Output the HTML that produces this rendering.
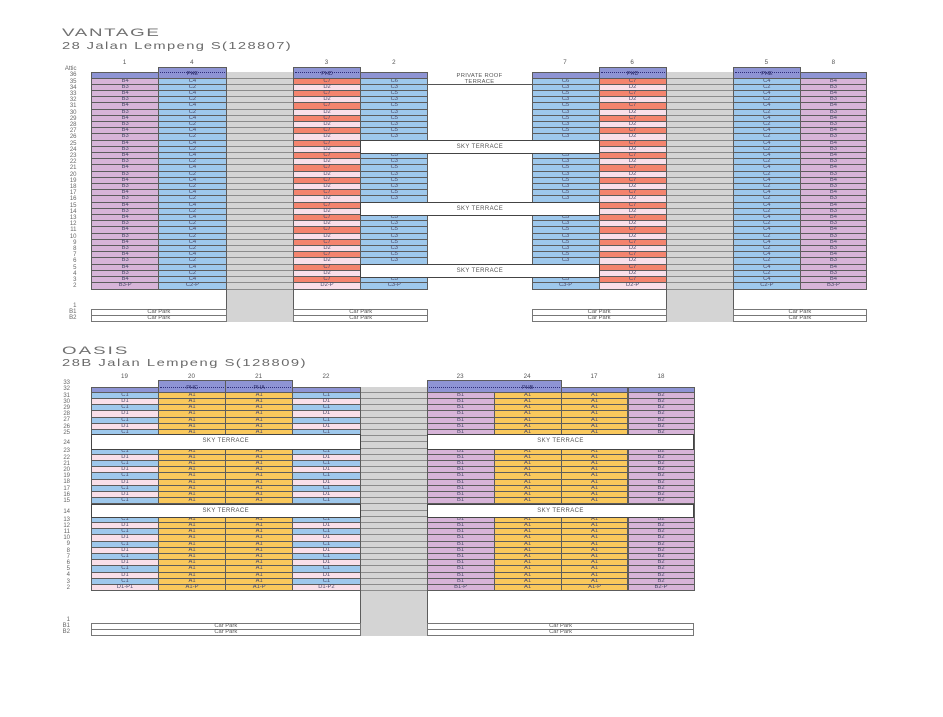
<!DOCTYPE html>
<html><head><meta charset="utf-8">
<style>
*{margin:0;padding:0}
body{width:943px;height:717px;position:relative;overflow:hidden;background:#fff;font-family:"Liberation Sans",Arial,sans-serif}
.col{position:absolute;box-sizing:border-box;border-left:1px solid #5c5c5c;border-right:1px solid #5c5c5c}
.col i{display:block;height:6.21px;box-sizing:border-box;border-bottom:1px solid #5c5c5c;font-style:normal;font-size:5.8px;line-height:5.6px;text-align:center;color:#4a4a6a;white-space:nowrap}
.col i.t{height:12.42px}
.B{background:#9ec8ec}.P{background:#f9dfe9}.L{background:#d7b4d8}.Y{background:#f9c85c}
.col i.P{background:#f9dfe9}
.col.G{background:#d4d4d4}
.col.G i{border-bottom-color:#8c8c8c}
.alt i:nth-child(odd){background:#f4846e}
.alt i:nth-child(even){background:#f9dfe9}
.band{position:absolute;box-sizing:border-box;background:#8e94d4;border:1px solid #5c5c5c}
.ph{position:absolute;box-sizing:border-box;background:#8e94d4;border:1px solid #5c5c5c}
.ph:before{content:"";position:absolute;left:1px;right:1px;top:4.9px;border-top:1px dotted #2e2e7a}
.ph.o:before{top:5.5px}
.ph span{position:absolute;left:0;right:0;bottom:0;line-height:5.8px;font-size:5.5px;color:#2a2a66;text-align:center}
.labs{position:absolute;width:30px}
.labs i{display:block;height:6.21px;line-height:6.21px;font-style:normal;font-size:6px;text-align:right;color:#666}
.num{position:absolute;width:20px;text-align:center;font-size:6.2px;line-height:6px;color:#555}
.sky{position:absolute;box-sizing:border-box;background:#fff;border:1px solid #444;font-size:6px;line-height:12.4px;color:#555;text-align:center;letter-spacing:.4px}
.cp{position:absolute;box-sizing:border-box;border:1px solid #777;background:#fff;height:12.9px}
.cp b{display:block;height:50%;box-sizing:border-box;font-weight:normal;font-size:5.8px;line-height:5.4px;text-align:center;color:#555}
.cp b:first-child{border-bottom:1px solid #777}
.ttl{position:absolute;white-space:nowrap;transform-origin:0 0;color:#707070;line-height:1}
.txt{position:absolute;font-size:5.8px;color:#555;text-align:center;line-height:6px;letter-spacing:.3px}
</style></head><body>

<!-- ================= VANTAGE ================= -->
<div class="ttl" style="left:62px;top:28.3px;font-size:11px;letter-spacing:1px;transform:scaleX(1.7)">VANTAGE</div>
<div class="ttl" style="left:62px;top:40.6px;font-size:10.5px;letter-spacing:1px;transform:scaleX(1.4);color:#6a6a6a">28 Jalan Lempeng S(128807)</div>

<div class="num" style="left:114.6px;top:60px">1</div>
<div class="num" style="left:181.9px;top:60px">4</div>
<div class="num" style="left:316.5px;top:60px">3</div>
<div class="num" style="left:383.8px;top:60px">2</div>
<div class="num" style="left:555px;top:60px">7</div>
<div class="num" style="left:622.1px;top:60px">6</div>
<div class="num" style="left:756.4px;top:60px">5</div>
<div class="num" style="left:823.4px;top:60px">8</div>

<div class="labs" style="left:46.5px;top:66.2px"><i>Attic</i><i>36</i><i>35</i><i>34</i><i>33</i><i>32</i><i>31</i><i>30</i><i>29</i><i>28</i><i>27</i><i>26</i><i>25</i><i>24</i><i>23</i><i>22</i><i>21</i><i>20</i><i>19</i><i>18</i><i>17</i><i>16</i><i>15</i><i>14</i><i>13</i><i>12</i><i>11</i><i>10</i><i>9</i><i>8</i><i>7</i><i>6</i><i>5</i><i>4</i><i>3</i><i>2</i></div>
<div class="labs" style="left:46.5px;top:302.6px"><i>1</i><i>B1</i><i>B2</i></div>

<!-- gray columns -->
<div class="col G" style="left:225.6px;top:72.4px;width:68.3px;height:249.6px"><i></i><i></i><i></i><i></i><i></i><i></i><i></i><i></i><i></i><i></i><i></i><i></i><i></i><i></i><i></i><i></i><i></i><i></i><i></i><i></i><i></i><i></i><i></i><i></i><i></i><i></i><i></i><i></i><i></i><i></i><i></i><i></i><i></i><i></i><i></i></div>
<div class="col G" style="left:665.7px;top:72.4px;width:68.1px;height:249.6px"><i></i><i></i><i></i><i></i><i></i><i></i><i></i><i></i><i></i><i></i><i></i><i></i><i></i><i></i><i></i><i></i><i></i><i></i><i></i><i></i><i></i><i></i><i></i><i></i><i></i><i></i><i></i><i></i><i></i><i></i><i></i><i></i><i></i><i></i><i></i></div>

<!-- col 1 -->
<div class="col L" style="left:91px;top:78.6px;width:68.3px">
<i>B4</i><i>B3</i><i>B4</i><i>B3</i><i>B4</i><i>B3</i><i>B4</i><i>B3</i>
<i>B4</i><i>B3</i><i>B4</i><i>B3</i><i>B4</i><i>B3</i><i>B4</i><i>B3</i>
<i>B4</i><i>B3</i><i>B4</i><i>B3</i><i>B4</i><i>B3</i><i>B4</i><i>B3</i>
<i>B4</i><i>B3</i><i>B4</i><i>B3</i><i>B4</i><i>B3</i><i>B4</i><i>B3</i>
<i>B4</i><i>B3-P</i></div>
<!-- col 4 -->
<div class="col B" style="left:158.3px;top:78.6px;width:68.3px">
<i>C4</i><i>C2</i><i>C4</i><i>C2</i><i>C4</i><i>C2</i><i>C4</i><i>C2</i>
<i>C4</i><i>C2</i><i>C4</i><i>C2</i><i>C4</i><i>C2</i><i>C4</i><i>C2</i>
<i>C4</i><i>C2</i><i>C4</i><i>C2</i><i>C4</i><i>C2</i><i>C4</i><i>C2</i>
<i>C4</i><i>C2</i><i>C4</i><i>C2</i><i>C4</i><i>C2</i><i>C4</i><i>C2</i>
<i>C4</i><i>C2-P</i></div>
<!-- col 3 -->
<div class="col alt" style="left:292.9px;top:78.6px;width:68.3px">
<i>C7</i><i>D2</i><i>C7</i><i>D2</i><i>C7</i><i>D2</i><i>C7</i><i>D2</i>
<i>C7</i><i>D2</i><i>C7</i><i>D2</i><i>C7</i><i>D2</i><i>C7</i><i>D2</i>
<i>C7</i><i>D2</i><i>C7</i><i>D2</i><i>C7</i><i>D2</i><i>C7</i><i>D2</i>
<i>C7</i><i>D2</i><i>C7</i><i>D2</i><i>C7</i><i>D2</i><i>C7</i><i>D2</i>
<i>C7</i><i>D2-P</i></div>
<!-- col 2 -->
<div class="col B" style="left:360.2px;top:78.6px;width:68.3px">
<i>C6</i><i>C3</i>
<i>C5</i><i>C3</i><i>C5</i><i>C3</i><i>C5</i><i>C3</i><i>C5</i><i>C3</i><i>C5</i><i>C3</i>
<i>C5</i><i>C3</i><i>C5</i><i>C3</i><i>C5</i><i>C3</i><i>C5</i><i>C3</i><i>C5</i><i>C3</i>
<i>C5</i><i>C3</i><i>C5</i><i>C3</i><i>C5</i><i>C3</i><i>C5</i><i>C3</i><i>C5</i><i>C3</i>
<i>C5</i><i>C3-P</i></div>
<!-- col 7 -->
<div class="col B" style="left:531.5px;top:78.6px;width:68.1px">
<i>C6</i><i>C3</i>
<i>C5</i><i>C3</i><i>C5</i><i>C3</i><i>C5</i><i>C3</i><i>C5</i><i>C3</i><i>C5</i><i>C3</i>
<i>C5</i><i>C3</i><i>C5</i><i>C3</i><i>C5</i><i>C3</i><i>C5</i><i>C3</i><i>C5</i><i>C3</i>
<i>C5</i><i>C3</i><i>C5</i><i>C3</i><i>C5</i><i>C3</i><i>C5</i><i>C3</i><i>C5</i><i>C3</i>
<i>C5</i><i>C3-P</i></div>
<!-- col 6 -->
<div class="col alt" style="left:598.6px;top:78.6px;width:68.1px">
<i>C7</i><i>D2</i><i>C7</i><i>D2</i><i>C7</i><i>D2</i><i>C7</i><i>D2</i>
<i>C7</i><i>D2</i><i>C7</i><i>D2</i><i>C7</i><i>D2</i><i>C7</i><i>D2</i>
<i>C7</i><i>D2</i><i>C7</i><i>D2</i><i>C7</i><i>D2</i><i>C7</i><i>D2</i>
<i>C7</i><i>D2</i><i>C7</i><i>D2</i><i>C7</i><i>D2</i><i>C7</i><i>D2</i>
<i>C7</i><i>D2-P</i></div>
<!-- col 5 -->
<div class="col B" style="left:732.8px;top:78.6px;width:68.1px">
<i>C4</i><i>C2</i><i>C4</i><i>C2</i><i>C4</i><i>C2</i><i>C4</i><i>C2</i>
<i>C4</i><i>C2</i><i>C4</i><i>C2</i><i>C4</i><i>C2</i><i>C4</i><i>C2</i>
<i>C4</i><i>C2</i><i>C4</i><i>C2</i><i>C4</i><i>C2</i><i>C4</i><i>C2</i>
<i>C4</i><i>C2</i><i>C4</i><i>C2</i><i>C4</i><i>C2</i><i>C4</i><i>C2</i>
<i>C4</i><i>C2-P</i></div>
<!-- col 8 -->
<div class="col L" style="left:799.9px;top:78.6px;width:67.1px">
<i>B4</i><i>B3</i><i>B4</i><i>B3</i><i>B4</i><i>B3</i><i>B4</i><i>B3</i>
<i>B4</i><i>B3</i><i>B4</i><i>B3</i><i>B4</i><i>B3</i><i>B4</i><i>B3</i>
<i>B4</i><i>B3</i><i>B4</i><i>B3</i><i>B4</i><i>B3</i><i>B4</i><i>B3</i>
<i>B4</i><i>B3</i><i>B4</i><i>B3</i><i>B4</i><i>B3</i><i>B4</i><i>B3</i>
<i>B4</i><i>B3-P</i></div>

<!-- Vantage headers -->
<div class="band" style="left:91px;top:72.4px;width:68.3px;height:6.2px"></div>
<div class="ph" style="left:158.3px;top:66.5px;width:68.3px;height:12.1px"><span>PHE</span></div>
<div class="ph" style="left:292.9px;top:66.5px;width:68.3px;height:12.1px"><span>PHD</span></div>
<div class="band" style="left:360.2px;top:72.4px;width:68.3px;height:6.2px"></div>
<div class="band" style="left:531.5px;top:72.4px;width:68.1px;height:6.2px"></div>
<div class="ph" style="left:598.6px;top:66.5px;width:68.1px;height:12.1px"><span>PHD</span></div>
<div class="ph" style="left:732.8px;top:66.5px;width:68.1px;height:12.1px"><span>PHE</span></div>
<div class="band" style="left:799.9px;top:72.4px;width:67.1px;height:6.2px"></div>

<!-- private roof terrace -->
<div class="txt" style="left:427.5px;top:73px;width:104px">PRIVATE ROOF</div>
<div class="txt" style="left:427.5px;top:79.3px;width:104px">TERRACE</div>
<div style="position:absolute;left:427.5px;top:84.3px;width:104.5px;height:1px;background:#555"></div>

<!-- sky terraces Vantage -->
<div class="sky" style="left:360.2px;top:139.7px;width:239.4px;height:14.4px">SKY TERRACE</div>
<div class="sky" style="left:360.2px;top:201.8px;width:239.4px;height:14.4px">SKY TERRACE</div>
<div class="sky" style="left:360.2px;top:263.9px;width:239.4px;height:14.4px">SKY TERRACE</div>

<!-- car parks Vantage -->
<div class="cp" style="left:91px;top:309.3px;width:135.6px"><b>Car Park</b><b>Car Park</b></div>
<div class="cp" style="left:292.9px;top:309.3px;width:135.6px"><b>Car Park</b><b>Car Park</b></div>
<div class="cp" style="left:531.5px;top:309.3px;width:135.2px"><b>Car Park</b><b>Car Park</b></div>
<div class="cp" style="left:732.8px;top:309.3px;width:134.2px"><b>Car Park</b><b>Car Park</b></div>

<!-- ================= OASIS ================= -->
<div class="ttl" style="left:62px;top:345.8px;font-size:11px;letter-spacing:1.2px;transform:scaleX(1.7)">OASIS</div>
<div class="ttl" style="left:62px;top:358.4px;font-size:10.5px;letter-spacing:1.1px;transform:scaleX(1.4);color:#6a6a6a">28B Jalan Lempeng S(128809)</div>

<div class="num" style="left:114.5px;top:374px">19</div>
<div class="num" style="left:181.5px;top:374px">20</div>
<div class="num" style="left:248.6px;top:374px">21</div>
<div class="num" style="left:316px;top:374px">22</div>
<div class="num" style="left:450.1px;top:374px">23</div>
<div class="num" style="left:517.1px;top:374px">24</div>
<div class="num" style="left:584px;top:374px">17</div>
<div class="num" style="left:651px;top:374px">18</div>

<div class="labs" style="left:40px;top:380.2px"><i>33</i><i>32</i><i>31</i><i>30</i><i>29</i><i>28</i><i>27</i><i>26</i><i>25</i><i style="height:12.42px;line-height:15.6px">24</i><i>23</i><i>22</i><i>21</i><i>20</i><i>19</i><i>18</i><i>17</i><i>16</i><i>15</i><i style="height:12.42px;line-height:16px">14</i><i>13</i><i>12</i><i>11</i><i>10</i><i>9</i><i>8</i><i>7</i><i>6</i><i>5</i><i>4</i><i>3</i><i>2</i></div>
<div class="labs" style="left:40px;top:617px"><i>1</i><i>B1</i><i>B2</i></div>

<!-- gray -->
<div class="col G" style="left:359.6px;top:386.5px;width:68px;height:249.5px"><i></i><i></i><i></i><i></i><i></i><i></i><i></i><i></i><i></i><i></i><i></i><i></i><i></i><i></i><i></i><i></i><i></i><i></i><i></i><i></i><i></i><i></i><i></i><i></i><i></i><i></i><i></i><i></i><i></i><i></i><i></i><i></i><i></i></div>

<!-- col 19 -->
<div class="col B" style="left:91px;top:392.7px;width:68px">
<i>C1</i><i class="P">D1</i><i>C1</i><i class="P">D1</i><i>C1</i><i class="P">D1</i><i>C1</i>
<i class="t"></i>
<i>C1</i><i class="P">D1</i><i>C1</i><i class="P">D1</i><i>C1</i><i class="P">D1</i><i>C1</i><i class="P">D1</i><i>C1</i>
<i class="t"></i>
<i>C1</i><i class="P">D1</i><i>C1</i><i class="P">D1</i><i>C1</i><i class="P">D1</i><i>C1</i><i class="P">D1</i><i>C1</i><i class="P">D1</i><i>C1</i><i class="P">D1-P1</i></div>
<!-- col 20 -->
<div class="col Y" style="left:158px;top:392.7px;width:68px">
<i>A1</i><i>A1</i><i>A1</i><i>A1</i><i>A1</i><i>A1</i><i>A1</i>
<i class="t"></i>
<i>A1</i><i>A1</i><i>A1</i><i>A1</i><i>A1</i><i>A1</i><i>A1</i><i>A1</i><i>A1</i>
<i class="t"></i>
<i>A1</i><i>A1</i><i>A1</i><i>A1</i><i>A1</i><i>A1</i><i>A1</i><i>A1</i><i>A1</i><i>A1</i><i>A1</i><i>A1-P</i></div>
<!-- col 21 -->
<div class="col Y" style="left:225px;top:392.7px;width:68.3px">
<i>A1</i><i>A1</i><i>A1</i><i>A1</i><i>A1</i><i>A1</i><i>A1</i>
<i class="t"></i>
<i>A1</i><i>A1</i><i>A1</i><i>A1</i><i>A1</i><i>A1</i><i>A1</i><i>A1</i><i>A1</i>
<i class="t"></i>
<i>A1</i><i>A1</i><i>A1</i><i>A1</i><i>A1</i><i>A1</i><i>A1</i><i>A1</i><i>A1</i><i>A1</i><i>A1</i><i>A1-P</i></div>
<!-- col 22 -->
<div class="col B" style="left:292.3px;top:392.7px;width:68.3px">
<i>C1</i><i class="P">D1</i><i>C1</i><i class="P">D1</i><i>C1</i><i class="P">D1</i><i>C1</i>
<i class="t"></i>
<i>C1</i><i class="P">D1</i><i>C1</i><i class="P">D1</i><i>C1</i><i class="P">D1</i><i>C1</i><i class="P">D1</i><i>C1</i>
<i class="t"></i>
<i>C1</i><i class="P">D1</i><i>C1</i><i class="P">D1</i><i>C1</i><i class="P">D1</i><i>C1</i><i class="P">D1</i><i>C1</i><i class="P">D1</i><i>C1</i><i class="P">D1-P2</i></div>
<!-- col 23 -->
<div class="col L" style="left:426.6px;top:392.7px;width:68px">
<i>B1</i><i>B1</i><i>B1</i><i>B1</i><i>B1</i><i>B1</i><i>B1</i>
<i class="t"></i>
<i>B1</i><i>B1</i><i>B1</i><i>B1</i><i>B1</i><i>B1</i><i>B1</i><i>B1</i><i>B1</i>
<i class="t"></i>
<i>B1</i><i>B1</i><i>B1</i><i>B1</i><i>B1</i><i>B1</i><i>B1</i><i>B1</i><i>B1</i><i>B1</i><i>B1</i><i>B1-P</i></div>
<!-- col 24 -->
<div class="col Y" style="left:493.6px;top:392.7px;width:68px">
<i>A1</i><i>A1</i><i>A1</i><i>A1</i><i>A1</i><i>A1</i><i>A1</i>
<i class="t"></i>
<i>A1</i><i>A1</i><i>A1</i><i>A1</i><i>A1</i><i>A1</i><i>A1</i><i>A1</i><i>A1</i>
<i class="t"></i>
<i>A1</i><i>A1</i><i>A1</i><i>A1</i><i>A1</i><i>A1</i><i>A1</i><i>A1</i><i>A1</i><i>A1</i><i>A1</i><i>A1</i></div>
<!-- col 17 -->
<div class="col Y" style="left:560.6px;top:392.7px;width:67.9px">
<i>A1</i><i>A1</i><i>A1</i><i>A1</i><i>A1</i><i>A1</i><i>A1</i>
<i class="t"></i>
<i>A1</i><i>A1</i><i>A1</i><i>A1</i><i>A1</i><i>A1</i><i>A1</i><i>A1</i><i>A1</i>
<i class="t"></i>
<i>A1</i><i>A1</i><i>A1</i><i>A1</i><i>A1</i><i>A1</i><i>A1</i><i>A1</i><i>A1</i><i>A1</i><i>A1</i><i>A1-P</i></div>
<!-- col 18 -->
<div class="col L" style="left:627.5px;top:392.7px;width:67px">
<i>B2</i><i>B2</i><i>B2</i><i>B2</i><i>B2</i><i>B2</i><i>B2</i>
<i class="t"></i>
<i>B2</i><i>B2</i><i>B2</i><i>B2</i><i>B2</i><i>B2</i><i>B2</i><i>B2</i><i>B2</i>
<i class="t"></i>
<i>B2</i><i>B2</i><i>B2</i><i>B2</i><i>B2</i><i>B2</i><i>B2</i><i>B2</i><i>B2</i><i>B2</i><i>B2</i><i>B2-P</i></div>

<!-- Oasis headers -->
<div class="band" style="left:91px;top:386.5px;width:68px;height:6.2px"></div>
<div class="ph o" style="left:158px;top:380px;width:68px;height:12.7px"><span>PHC</span></div>
<div class="ph o" style="left:225px;top:380px;width:68.3px;height:12.7px"><span>PHA</span></div>
<div class="band" style="left:292.3px;top:386.5px;width:68.3px;height:6.2px"></div>
<div class="ph o" style="left:426.6px;top:380px;width:135px;height:12.7px"><span style="left:67px">PHB</span></div>
<div class="band" style="left:560.6px;top:386.5px;width:67.9px;height:6.2px"></div>
<div class="band" style="left:627.5px;top:386.5px;width:67px;height:6.2px"></div>

<!-- sky terraces Oasis -->
<div class="sky" style="left:91px;top:434.2px;width:269.6px;height:15.4px;line-height:13.4px">SKY TERRACE</div>
<div class="sky" style="left:426.6px;top:434.2px;width:267.9px;height:15.4px;line-height:13.4px">SKY TERRACE</div>
<div class="sky" style="left:91px;top:503.5px;width:269.6px;height:14.4px">SKY TERRACE</div>
<div class="sky" style="left:426.6px;top:503.5px;width:267.9px;height:14.4px">SKY TERRACE</div>

<!-- car parks Oasis -->
<div class="cp" style="left:91px;top:623.3px;width:269.6px"><b>Car Park</b><b>Car Park</b></div>
<div class="cp" style="left:426.6px;top:623.3px;width:267.9px"><b>Car Park</b><b>Car Park</b></div>

</body></html>
